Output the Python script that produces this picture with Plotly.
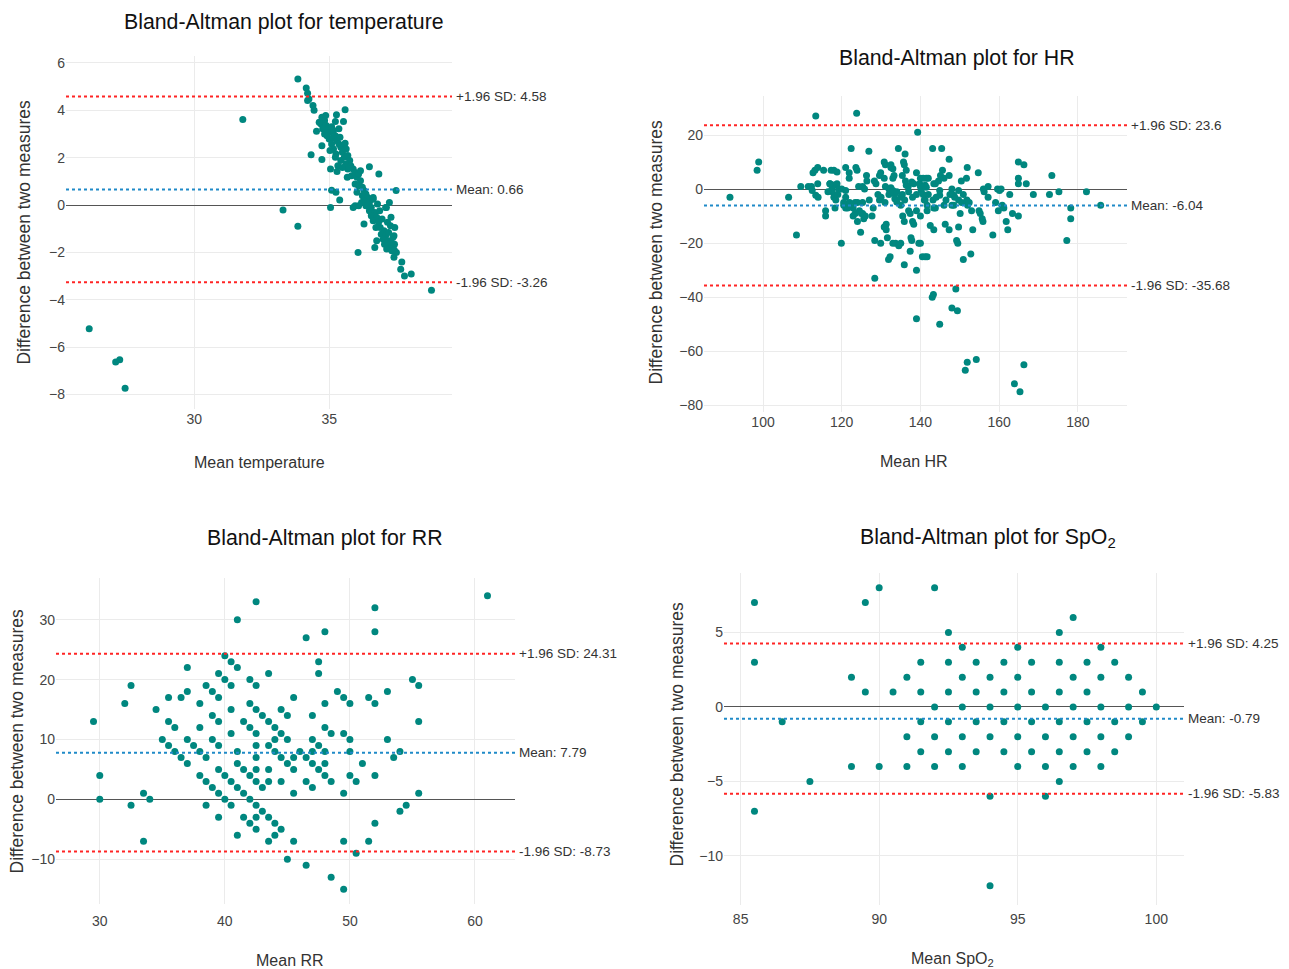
import plotly.graph_objects as go

W, H = 1289, 969

# ---------------- data ----------------
temp_mean = [33.84, 34.15, 34.2, 34.25, 34.2, 34.4, 34.44, 31.8, 35.59, 35.27, 35.53, 35.23, 34.53, 34.33,
             34.73, 34.73, 35.05, 35.29, 36.49, 36.84, 37.48, 35.09, 35.25, 35.39, 35.05, 33.29, 33.84, 36.07,
             35.96, 36.29, 36.69, 36.76, 37.69, 37.65, 37.79, 38.04, 38.79, 26.11, 27.09, 27.24, 27.44, 37.23,
             37.12, 37.43, 37.4, 37.42, 37.41, 37.49, 37.4,
             34.73, 34.83, 34.69, 34.89, 34.76, 34.96, 35.03, 34.92, 35.09, 35.16, 35.0, 35.13, 35.23, 35.36,
             35.29, 35.09, 35.16, 35.36, 35.43, 35.03, 35.25, 35.49, 35.59, 35.63, 35.56, 35.69, 35.76, 35.43,
             35.63, 35.8, 35.89, 35.69, 35.96, 35.67, 35.83, 36.03, 36.09, 36.16, 35.96, 36.09, 36.23, 36.29,
             36.03, 36.36, 36.23, 36.43, 36.29, 36.49, 36.36, 36.56, 36.63, 36.49, 36.69, 36.56, 36.76, 36.63,
             36.83, 36.89, 36.96, 36.73, 37.03, 36.93, 37.09, 37.0, 37.16, 37.05, 37.23, 37.29, 37.13, 37.32,
             37.27, 37.2, 37.36, 37.29, 37.16, 37.09, 36.87, 36.79, 36.63, 36.09, 35.89, 36.2, 36.16, 35.32,
             35.49, 35.23, 35.4, 34.83, 34.63, 34.87]
temp_diff = [5.32, 4.94, 4.72, 4.48, 4.42, 4.2, 4.0, 3.61, 4.02, 3.81, 3.53, 3.53, 3.12, 2.12,
             1.92, 2.51, 1.52, 1.42, 1.62, 1.31, 0.61, 0.63, 0.54, 0.21, -0.1, -0.21, -0.9, -2.0,
             -0.03, -0.8, -1.79, -1.51, -2.41, -2.71, -3.0, -2.91, -3.6, -5.22, -6.63, -6.53, -7.74, 0.11,
             -0.1, -0.95, -1.3, -1.65, -1.9, -2.0, -2.2,
             3.71, 3.57, 3.43, 3.36, 3.22, 3.22, 3.07, 2.93, 3.31, 3.15, 2.79, 2.83, 2.93, 3.22,
             2.72, 2.58, 2.37, 2.58, 2.44, 2.30, 2.16, 2.23, 2.61, 2.37, 2.02, 2.09, 1.88, 1.88,
             1.73, 1.66, 1.52, 1.52, 1.38, 1.17, 1.24, 1.17, 1.31, 1.03, 0.89, 0.82, 0.75, 0.61,
             0.54, 0.47, 0.39, 0.32, 0.18, 0.11, -0.03, -0.1, 0.32, -0.24, -0.31, -0.45, -0.52, -0.66,
             -0.73, -0.95, -0.59, -0.95, -1.09, -1.23, -1.3, -1.44, -1.51, -1.65, -1.72, -1.58, -1.86, -1.93,
             -0.87, -1.16, -1.37, -0.52, -0.73, -0.1, -0.24, 0.04, 0.25, -0.03, -0.1, 0.11, 1.45, 1.66,
             1.59, 2.02, 2.86, 3.0, 3.5, 3.78]
temp_limits = [4.58, 0.66, -3.26]

hr_mean = [91.6, 98.5, 98.9, 106.5, 108.5, 109.6, 111.5, 112.3, 112.5, 112.7, 113.4, 113.2, 113.9, 113.9,
           113.4, 114.0, 115.4, 115.9, 115.9, 117.3, 118.0, 118.8, 117.0, 117.5, 118.0, 118.8, 119.2,
           117.6, 118.0, 118.5, 118.3, 119.9, 121.0, 121.0, 121.0, 120.5, 121.0, 121.9, 121.9, 122.4,
           122.9, 122.9, 123.4, 123.4, 123.6, 123.9, 123.8, 124.0, 124.3, 124.8, 125.3, 125.8, 125.3, 125.6,
           125.3, 126.3, 126.4, 126.9, 127.7, 128.3, 128.7, 128.4, 128.4, 129.2, 129.6, 129.9, 129.6, 129.9,
           130.8, 131.1, 130.8, 131.1, 130.8, 131.3, 131.3, 131.6, 131.9, 132.3, 132.0, 132.5, 133.0, 132.5,
           132.5, 133.0, 133.0, 133.7, 133.0, 133.3, 133.5, 133.5, 134.0, 134.4, 134.5, 135.0, 135.0, 135.0,
           135.4, 135.4, 135.7, 135.9, 136.4, 135.9, 136.1, 135.5, 135.9, 136.2, 136.4, 136.9, 137.0, 137.4,
           137.4, 137.6, 137.8, 137.8, 138.3, 138.0, 138.3, 139.0, 139.0, 139.0, 139.0, 139.3, 139.6, 140.0,
           139.8, 140.0, 140.0, 140.0, 140.2, 140.7, 140.7, 141.5, 142.0, 140.5, 141.2, 141.7, 141.2, 141.5,
           141.2, 141.7, 141.7, 142.5, 143.0, 143.3, 143.1, 143.4, 143.2, 143.4, 143.4, 143.8, 143.8, 144.6,
           145.1, 144.9, 144.9, 144.9, 145.4, 145.6, 146.0, 146.0, 146.3, 147.3, 147.3, 147.3, 148.0, 148.0,
           148.5, 148.0, 148.5, 148.7, 149.0, 149.2, 149.4, 149.5, 149.7, 149.7, 149.7, 150.1, 150.4, 150.9,
           150.9, 151.4, 151.7, 151.9, 151.9, 151.8, 152.0, 152.4, 152.8, 153.0, 153.3, 154.2, 154.7, 154.9,
           155.2, 155.7, 155.9, 156.0, 156.2, 157.2, 157.2, 158.4, 159.1, 159.6, 160.1, 159.8, 160.5, 160.8,
           161.2, 161.8, 162.2, 162.7, 163.4, 163.9, 164.9, 164.9, 164.9, 164.9, 165.3, 166.3, 166.3, 166.9,
           168.7, 172.8, 173.4, 175.2, 177.2, 178.2, 178.2, 182.2, 185.8,
           116.5, 117.0, 119.0, 120.0, 120.5, 121.5, 122.0, 124.0, 124.5, 125.0, 126.0, 127.0, 128.0, 130.0,
           131.0, 132.0, 133.0, 134.0, 136.0, 137.0, 138.0, 139.0, 141.0, 142.0, 144.0, 146.5, 147.5, 150.5]
hr_diff = [-3, 7, 10, -3, -17, 1, 1, 1, -0.5, 6, 27, 7, 8, 2,
           -2.3, -3, 7, -8, -10, 7, 7, 6.3, 2, 0, 1.5, 2, 0,
           -1, -3, -4, -7, -20, 8, -0.5, -3, -5, -7, 6, 4, 15,
           -7, -10, -5, -9, 8, 7, 28, -12, 1, -16, 1, 0, -9, -11,
           -5, 5, 3, 14, -10, 3, 2, -19, -33, -2, 5, 6, -4, -20,
           10, 9, 4, 1, -14, -13, -15, -18, -26, -25, 0, 0.5, -0.5, 9,
           8, 7.5, -20, -20, 4, 5, -1.7, -3.6, -4.8, 15, -21, -20, -3, -6,
           5, -2, 10, 9, 7, -28, 13, -10, -12, 3, 1.4, 1, -8, -9,
           -23, -18, -19, 2.6, 2, -12, -13, 6, -8, -30, -48, 21, -20, -20,
           2, 1, 4, -10, -0.5, -2, 4, 4, 4, -25, -25, -25, 1.4, 0.7,
           -4, -6, -8, -13.5, -40, -39, 15, 2, -4, -7, -15, 2, -7, 3,
           5, -0.5, -2.3, -50, 15, 7, 4, -6, -13, 11, 5, -15, 0, -6,
           -6, -44, -2.3, -3, -37, -19, -45, -20, -0.5, -4, -14, -9, 3, -2,
           -26, -67, 4, 8, -64, -4, -6, -5, -24, -8, -15, -63, 6, -8,
           -9, -11, -12, 0, -1, 1, -3, -17, -5, 0, -0.5, -8, 0, -6,
           -7, -12, -15, -2, -9, -72, 10, 4, 2, -10, -75, 9, -65, 2,
           -2, -2, 5, -1, -19, -7, -11, -1, -6,
           -1, 2, -2, 0, -6, -7, -5, -5, -8, -9, -10, -4, -7, -3,
           -5, -2, -1, -1, -4, -1, -3, -2, -4, -2, -3, -4, -2, -5]
hr_limits = [23.6, -6.04, -35.68]

rr_mean = [29.5, 30, 30, 32, 32.5, 32.5, 33.5, 33.5, 34, 34.5, 35, 35.5, 35.5, 35.5, 36, 36, 36.5, 36.5,
           37, 37, 37, 37, 37.5, 38, 38, 38, 38, 38.5, 38.5, 38.5, 38.5, 39, 39, 39, 39,
           39.5, 39.5, 39.5, 39.5, 39.5, 39.5, 39.5, 40, 40, 40, 40, 40.5, 40.5, 40.5, 40.5, 40.5, 40.5,
           41, 41, 41, 41, 41, 41, 41.5, 41.5, 41.5, 41.5, 42, 42, 42, 42, 42, 42,
           42.5, 42.5, 42.5, 42.5, 42.5, 42.5, 42.5, 42.5, 42.5, 42.5, 42.5, 43, 43, 43,
           43.5, 43.5, 43.5, 43.5, 43.5, 43.5, 43.5, 44, 44, 44, 44, 44, 44.5, 44.5, 44.5, 44.5, 44.5,
           45, 45, 45, 45, 45.5, 45.5, 45.5, 45.5, 45.5, 46, 46.5, 46.5, 46.5, 46.5,
           47, 47, 47, 47, 47, 47.5, 47.5, 47.5, 47.5, 48, 48, 48, 48, 48, 48, 48.5, 48.5, 48.5,
           49, 49.5, 49.5, 49.5, 49.5, 49.5, 50, 50, 50, 50, 50.5, 50.5, 51, 51.5, 51.5,
           52, 52, 52, 52, 52, 53, 53, 53.5, 54, 54, 54.5, 55, 55.5, 55.5, 55.5, 61]
rr_diff = [13, 4, 0, 16, 19, -1, 1, -7, 0, 15, 10, 17, 13, 9, 12, 8, 17, 7,
           22, 18, 10, 6, 9, 16, 12, 8, 4, 19, 7, 3, -1, 18, 14, 10, 2,
           21, 17, 13, 9, 5, 1, -3, 24, 20, 4, 0, 23, 19, 15, 11, 3, -1,
           30, 22, 8, 6, 2, -6, 13, 5, 1, -3, 20, 16, 12, 4, 0, -4,
           33, 19, 15, 11, 9, 7, 5, 3, -1, -3, -5, 14, 2, -2,
           21, 13, 9, 5, 3, -3, -7, 12, 10, 8, -4, -6, 15, 11, 7, 3, -5,
           14, 10, 6, -10, 17, 7, 5, 1, -7, 8, 27, 7, 3, -11,
           14, 10, 8, 6, 2, 23, 21, 9, 5, 28, 16, 12, 8, 6, 4, 11, 3, -13,
           18, 17, 11, 1, -7, -15, 16, 10, 8, 4, 3, -9, 6, 17, -7,
           32, 28, 16, 4, -4, 18, 10, 7, 8, -2, -1, 20, 19, 13, 1, 34]
rr_limits = [24.31, 7.79, -8.73]

spo2_mean = [85.5, 85.5, 85.5, 86.5, 87.5, 89, 89, 89.5, 89.5, 90, 90, 90.5, 91, 91, 91,
             91.5, 91.5, 91.5, 91.5, 92, 92, 92, 92, 92.5, 92.5, 92.5, 92.5, 92.5,
             93, 93, 93, 93, 93, 93.5, 93.5, 93.5, 93.5, 94, 94, 94, 94, 94,
             94.5, 94.5, 94.5, 94.5, 95, 95, 95, 95, 95, 95.5, 95.5, 95.5, 95.5,
             96, 96, 96, 96, 96.5, 96.5, 96.5, 96.5, 96.5, 96.5, 97, 97, 97, 97, 97,
             97.5, 97.5, 97.5, 97.5, 98, 98, 98, 98, 98, 98.5, 98.5, 98.5,
             99, 99, 99, 99.5, 99.5, 100]
spo2_diff = [7, 3, -7, -1, -5, 2, -4, 7, 1, 8, -4, 1, 2, -2, -4,
             3, 1, -1, -3, 8, 0, -2, -4, 5, 3, 1, -1, -3,
             4, 2, 0, -2, -4, 3, 1, -1, -3, 2, 0, -2, -6, -12,
             3, 1, -1, -3, 4, 2, 0, -2, -4, 3, 1, -1, -3,
             0, -2, -4, -6, 5, 3, 1, -1, -3, -5, 6, 2, 0, -2, -4,
             3, 1, -1, -3, 4, 2, 0, -2, -4, 3, -1, -3,
             2, 0, -2, 1, -1, 0]
spo2_limits = [4.25, -0.79, -5.83]

titles = ["Bland-Altman plot for temperature", "Bland-Altman plot for HR",
          "Bland-Altman plot for RR", "Bland-Altman plot for SpO<sub>2</sub>"]
xtitles = ["Mean temperature", "Mean HR", "Mean RR", "Mean SpO<sub>2</sub>"]
ytitle = "Difference between two measures"

# ---------------- layout geometry (pixels) ----------------
panels = [
    dict(px=(66, 452), py=(55, 409), xr=[25.25, 39.55], yr=[-8.62, 6.3], xd=5, yd=2, so=0,
         title=(284, 21), xt=(259, 462), yt=(24, 232)),
    dict(px=(704, 1127), py=(95, 412), xr=[85.0, 192.5], yr=[-82.5, 34.5], xd=20, yd=20, so=0,
         title=(957, 57), xt=(914, 461), yt=(656, 252)),
    dict(px=(56, 515), py=(578, 905), xr=[26.5, 63.2], yr=[-17.5, 37], xd=10, yd=10, so=7,
         title=(325, 538), xt=(290, 961), yt=(17, 742)),
    dict(px=(724, 1184), py=(573, 906), xr=[84.4, 101.0], yr=[-13.3, 9.0], xd=5, yd=5, so=4,
         title=(988, 538), xt=(952, 960), yt=(677, 735)),
]
data = [(temp_mean, temp_diff, temp_limits), (hr_mean, hr_diff, hr_limits),
        (rr_mean, rr_diff, rr_limits), (spo2_mean, spo2_diff, spo2_limits)]

TEAL = "#00877f"
RED = "#ff2424"
BLUE = "#1f8ac8"
fx = lambda p: p / W
fy = lambda p: 1 - p / H

fig = go.Figure()
layout = dict(width=W, height=H, margin=dict(l=0, r=0, t=0, b=0),
              paper_bgcolor="white", plot_bgcolor="white", showlegend=False,
              font=dict(family="Liberation Sans, Arial, sans-serif", color="#444"))
annotations = []
shapes = []

for i, (p, (xs, ys, lim)) in enumerate(zip(panels, data)):
    sfx = "" if i == 0 else str(i + 1)
    xa, ya = "x" + sfx, "y" + sfx
    fig.add_trace(go.Scatter(x=xs, y=ys, mode="markers", xaxis=xa, yaxis=ya,
                             marker=dict(color=TEAL, size=7), hoverinfo="x+y"))
    layout["xaxis" + sfx] = dict(domain=[fx(p["px"][0]), fx(p["px"][1])], range=p["xr"], anchor=ya,
                                 dtick=p["xd"], showgrid=True, gridcolor="#ebebeb", zeroline=False,
                                 showline=False, ticks="", ticklabelstandoff=p["so"],
                                 tickfont=dict(size=14, color="#444"))
    layout["yaxis" + sfx] = dict(domain=[fy(p["py"][1]), fy(p["py"][0])], range=p["yr"], anchor=xa,
                                 dtick=p["yd"], showgrid=True, gridcolor="#ebebeb", zeroline=True,
                                 zerolinecolor="#555", zerolinewidth=1, showline=False, ticks="",
                                 tickfont=dict(size=14, color="#444"))
    labels = ["+1.96 SD: %g" % lim[0], "Mean: %g" % lim[1], "-1.96 SD: %g" % lim[2]]
    colors = [RED, BLUE, RED]
    for val, lab, col in zip(lim, labels, colors):
        shapes.append(dict(type="line", xref=xa + " domain", x0=0, x1=1, yref=ya, y0=val, y1=val,
                           line=dict(color=col, width=2, dash="dot")))
        annotations.append(dict(xref="paper", x=fx(p["px"][1] + 2), xanchor="left", yref=ya, y=val,
                                yanchor="middle", text=lab, showarrow=False,
                                font=dict(size=13.5, color="#333")))
    annotations.append(dict(xref="paper", yref="paper", x=fx(p["title"][0]), y=fy(p["title"][1]),
                            xanchor="center", yanchor="middle", text=titles[i], showarrow=False,
                            font=dict(size=21.3, color="#111")))
    annotations.append(dict(xref="paper", yref="paper", x=fx(p["xt"][0]), y=fy(p["xt"][1]),
                            xanchor="center", yanchor="middle", text=xtitles[i], showarrow=False,
                            font=dict(size=16, color="#333")))
    annotations.append(dict(xref="paper", yref="paper", x=fx(p["yt"][0]), y=fy(p["yt"][1]),
                            xanchor="center", yanchor="middle", text=ytitle, showarrow=False,
                            textangle=-90, font=dict(size=17.5, color="#333")))

layout["annotations"] = annotations
layout["shapes"] = shapes
fig.update_layout(**layout)
fig.write_html("out.html", config={"displayModeBar": False},
               post_script="document.body.style.margin='0px';document.body.style.overflow='hidden';")
